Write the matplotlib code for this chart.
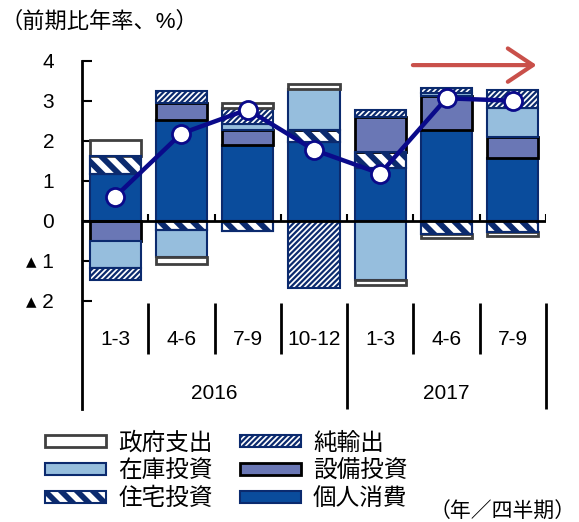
import matplotlib
matplotlib.use('Agg')
import matplotlib.pyplot as plt
from matplotlib.patches import Patch, Rectangle
from matplotlib.collections import PolyCollection
from matplotlib.legend_handler import HandlerBase
from matplotlib.transforms import IdentityTransform
import numpy as np

plt.rcParams['font.family'] = ['Liberation Sans', 'Noto Sans CJK JP', 'DejaVu Sans']
plt.rcParams['hatch.linewidth'] = 1.6

quarters = ['1-3', '4-6', '7-9', '10-12', '1-3', '4-6', '7-9']
years = ['2016', '2017']
year_centers = [1.5, 5.0]

# contributions to real GDP growth (annualised, %pt)
consumption = [1.18, 2.52, 1.89, 1.97, 1.31, 2.27, 1.58]
housing = [0.44, -0.23, -0.25, 0.30, 0.42, -0.32, -0.28]
equipment = [-0.50, 0.43, 0.39, 0.00, 0.87, 0.85, 0.52]
inventory = [-0.69, -0.67, 0.15, 1.02, -1.48, 0.07, 0.72]
net_exports = [-0.29, 0.30, 0.40, -1.67, 0.17, 0.13, 0.45]
government = [0.40, -0.17, 0.12, 0.12, -0.12, -0.11, -0.10]
gdp = [0.60, 2.18, 2.78, 1.77, 1.18, 3.06, 3.00]

NAVY = '#0b2a6e'
styles = [
    ('個人消費', dict(facecolor='#0a4c9c', edgecolor=NAVY, linewidth=1.5)),
    ('住宅投資', dict(facecolor='white', edgecolor=NAVY, linewidth=1.5)),
    ('設備投資', dict(facecolor='#6a77b5', edgecolor='black', linewidth=2)),
    ('在庫投資', dict(facecolor='#96bedd', edgecolor=NAVY, linewidth=1.5)),
    ('純輸出', dict(facecolor='white', edgecolor=NAVY, linewidth=1.5, hatch='//////')),
    ('政府支出', dict(facecolor='white', edgecolor='#404040', linewidth=2)),
]
series = [consumption, housing, equipment, inventory, net_exports, government]
STRIPED = '住宅投資'


def clip_half(poly, f):
    out = []
    for i in range(len(poly)):
        p, q = poly[i], poly[(i + 1) % len(poly)]
        fp, fq = f(p), f(q)
        if fp >= 0:
            out.append(p)
        if (fp >= 0) != (fq >= 0):
            t = fp / (fp - fq)
            out.append((p[0] + t * (q[0] - p[0]), p[1] + t * (q[1] - p[1])))
    return out


def stripe_polys(x0, y0, x1, y1, step, band):
    # '\' stripes: bands c <= x + y <= c + band, cut to the rectangle
    rect = [(x0, y0), (x1, y0), (x1, y1), (x0, y1)]
    polys = []
    c = x0 + y0 - band
    while c < x1 + y1:
        p = clip_half(rect, lambda v, c=c: v[0] + v[1] - c)
        p = clip_half(p, lambda v, c=c: c + band - v[0] - v[1]) if p else p
        if len(p) >= 3:
            polys.append(p)
        c += step
    return polys


class StripeHandler(HandlerBase):
    def create_artists(self, legend, orig, xd, yd, w, h, fontsize, trans):
        r = Rectangle((-xd, -yd), w, h, facecolor='white', edgecolor='none',
                      transform=trans)
        pc = PolyCollection(stripe_polys(-xd, -yd, -xd + w, -yd + h, 11.5, 5.8),
                            facecolors=NAVY, edgecolors='none', transform=trans)
        edge = Rectangle((-xd, -yd), w, h, fill=False, edgecolor=NAVY,
                         lw=1.5, transform=trans)
        return [r, pc, edge]


fig = plt.figure(figsize=(5.79, 5.22), dpi=100)
ax = fig.add_axes([0.1416, 0.217, 0.8014, 0.6667])
ax.set_xlim(-0.5, 6.5)
ax.set_ylim(-4.7, 4)

x = np.arange(len(quarters))
width = 0.77
pos = np.zeros(len(x))
neg = np.zeros(len(x))
handles = {}
for vals, (name, st) in zip(series, styles):
    v = np.array(vals)
    bottom = np.where(v >= 0, pos, neg)
    bars = ax.bar(x, v, width, bottom=bottom, zorder=2, **st)
    if name == STRIPED:
        for b in bars:
            (px0, py0), (px1, py1) = ax.transData.transform(
                [(b.get_x(), b.get_y()), (b.get_x() + b.get_width(), b.get_y() + b.get_height())])
            ya, yb = sorted([py0, py1])
            pc = PolyCollection(stripe_polys(px0, ya, px1, yb, 16.5, 8.3),
                                facecolors=NAVY, edgecolors='none',
                                transform=IdentityTransform(), zorder=2.1)
            ax.add_collection(pc, autolim=False)
            ax.add_patch(Rectangle(b.get_xy(), b.get_width(), b.get_height(),
                                   fill=False, edgecolor=NAVY, lw=1.5, zorder=2.2))
    handles[name] = Patch(**st)
    pos += np.clip(v, 0, None)
    neg += np.clip(v, None, 0)

ax.plot(x, gdp, color='#0a0a8a', lw=3.2, marker='o', ms=13, mfc='white',
        mec='#0a0a8a', mew=2, zorder=5)

for s in ['top', 'right', 'bottom']:
    ax.spines[s].set_visible(False)
ax.spines['left'].set_linewidth(2)
ax.set_xticks([])
ax.set_yticks([-2, -1, 0, 1, 2, 3, 4])
ax.set_yticklabels(['▴ 2', '▴ 1', '0', '1', '2', '3', '4'], fontsize=15)
ax.tick_params(axis='y', direction='in', length=7, width=1.5, pad=20)

ax.axhline(0, color='black', lw=2, zorder=3)
ax.vlines(np.arange(0.5, 7), 0, 0.18, color='black', lw=1.5, zorder=3)

# category table below the plot
ax.vlines([0.5, 1.5, 2.5, 4.5, 5.5], -2.05, -3.33, color='black', lw=2)
ax.vlines([3.5, 6.5], -2.05, -4.7, color='black', lw=2, clip_on=False)
for i, q in enumerate(quarters):
    ax.text(i, -2.96, q, ha='center', va='center', fontsize=15)
for c, yr in zip(year_centers, years):
    ax.text(c, -4.32, yr, ha='center', va='center', fontsize=15)

ax.annotate('', xy=(6.4, 3.89), xytext=(4.45, 3.89),
            arrowprops=dict(arrowstyle='->, head_length=0.6, head_width=0.4',
                            color='#c9504a', lw=3, mutation_scale=30))

order = ['政府支出', '在庫投資', '住宅投資', '純輸出', '設備投資', '個人消費']
fig.legend([handles[k] for k in order], order, loc='upper left',
           bbox_to_anchor=(45 / 579, 1 - 432 / 522), ncol=2, frameon=False,
           fontsize=17, handlelength=2.6, handleheight=0.42, handletextpad=0.5,
           columnspacing=1.15, labelspacing=0.24, borderpad=0, borderaxespad=0,
           handler_map={handles[STRIPED]: StripeHandler()})

fig.text(0.0, 1 - 22 / 522, '（前期比年率、%）', va='center', fontsize=16)
fig.text(430 / 579, 1 - 512 / 522, '（年／四半期）', va='center', fontsize=15)

fig.savefig('out.png', dpi=100)
